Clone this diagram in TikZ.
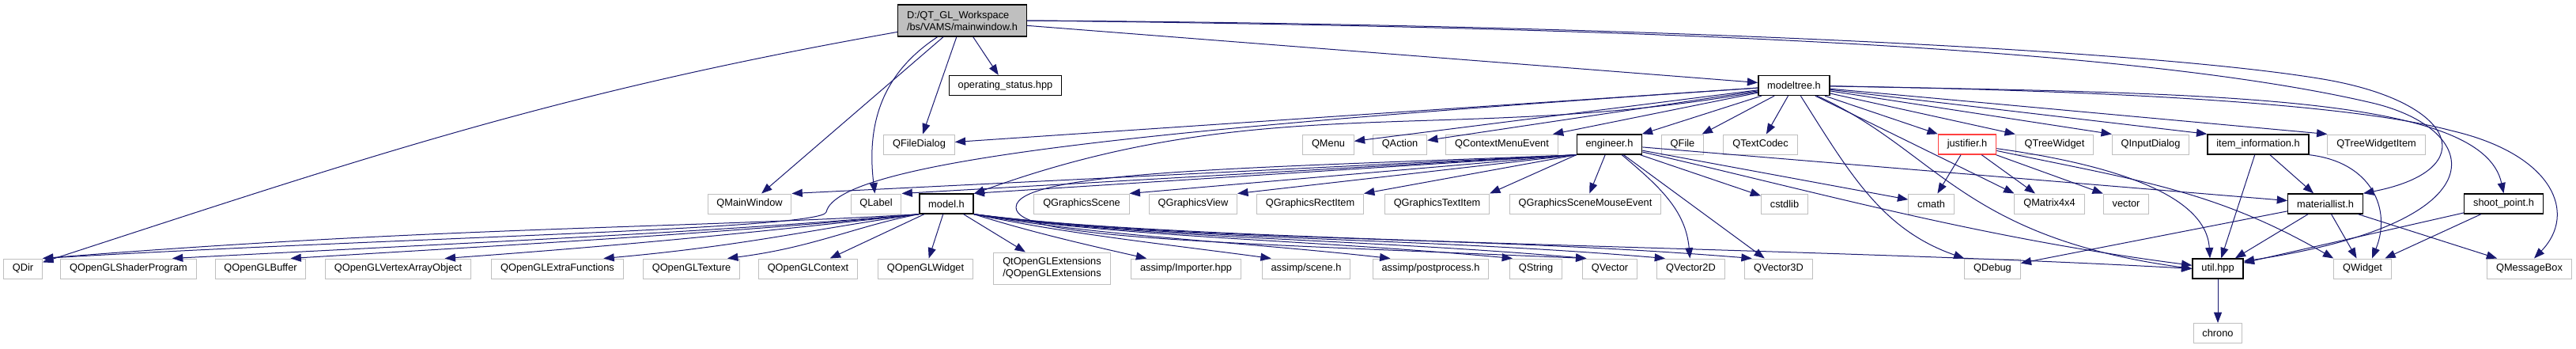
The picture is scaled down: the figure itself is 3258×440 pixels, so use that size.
\documentclass[tikz,border=0pt]{standalone}
\usepackage{fontspec}
\setmainfont{Liberation Sans}
\usetikzlibrary{arrows.meta}

\definecolor{edgeblue}{HTML}{191970}
\definecolor{extgrey}{HTML}{BFBFBF}
\definecolor{flagred}{HTML}{FF4040}

\tikzset{
  filebox/.style={rectangle, fill=white, inner xsep=8.5pt, inner ysep=2pt,
    minimum height=18.75pt, font=\fontsize{9.6}{11.25}\selectfont},
  ext/.style={filebox, draw=extgrey, line width=0.75pt},
  doc/.style={filebox, draw=black, line width=1pt},
  root/.style={doc, fill=extgrey},
  flagged/.style={filebox, draw=flagred, line width=1pt},
  dep/.style={draw=edgeblue, line width=0.75pt, -{Triangle[length=10pt,width=7.5pt]}},
}

\begin{document}
\begin{tikzpicture}[x=0.75pt, y=0.75pt]
\useasboundingbox (0,0) rectangle (3258,-440);
% top file
\node[root, align=left, minimum height=30pt] (mw) at (1217,-26) {D:/QT\_GL\_Workspace\\/bs/VAMS/mainwindow.h};
% second rank
\node[doc] (opstat) at (1271.5,-108) {operating\_status.hpp};
\node[doc] (mt) at (2269,-108) {modeltree.h};
% third rank
\node[ext] (qfiledlg) at (1162.5,-182.5) {QFileDialog};
\node[ext] (qmenu) at (1680,-182.5) {QMenu};
\node[ext] (qaction) at (1770.5,-182.5) {QAction};
\node[ext] (qctxmenu) at (1899.5,-182.5) {QContextMenuEvent};
\node[doc] (eng) at (2035.5,-182.5) {engineer.h};
\node[ext] (qfile) at (2128,-182.5) {QFile};
\node[ext] (qtextcodec) at (2226.5,-182.5) {QTextCodec};
\node[flagged] (just) at (2488,-182.5) {justifier.h};
\node[ext] (qtreew) at (2598.5,-182.5) {QTreeWidget};
\node[ext] (qinputdlg) at (2720,-182.5) {QInputDialog};
\node[doc] (iteminfo) at (2856,-182.5) {item\_information.h};
\node[ext] (qtreewitem) at (3005.5,-182.5) {QTreeWidgetItem};
% fourth rank
\node[ext] (qmainwin) at (948,-257.5) {QMainWindow};
\node[ext] (qlabel) at (1108,-257.5) {QLabel};
\node[doc] (model) at (1197,-257.5) {model.h};
\node[ext] (qgscene) at (1368,-257.5) {QGraphicsScene};
\node[ext] (qgview) at (1509,-257.5) {QGraphicsView};
\node[ext] (qgrect) at (1657,-257.5) {QGraphicsRectItem};
\node[ext] (qgtext) at (1817.5,-257.5) {QGraphicsTextItem};
\node[ext] (qgmouse) at (2005,-257.5) {QGraphicsSceneMouseEvent};
\node[ext] (cstdlib) at (2257,-257.5) {cstdlib};
\node[ext] (cmath) at (2442.5,-257.5) {cmath};
\node[ext] (qmat) at (2592,-257.5) {QMatrix4x4};
\node[ext] (vector) at (2689,-257.5) {vector};
\node[doc] (matl) at (2941,-257.5) {materiallist.h};
\node[doc] (shoot) at (3166.5,-257.5) {shoot\_point.h};
% fifth rank
\node[ext] (qdir) at (29,-339.5) {QDir};
\node[ext] (shader) at (162.5,-339.5) {QOpenGLShaderProgram};
\node[ext] (buffer) at (329.5,-339.5) {QOpenGLBuffer};
\node[ext] (vao) at (503.5,-339.5) {QOpenGLVertexArrayObject};
\node[ext] (extra) at (705,-339.5) {QOpenGLExtraFunctions};
\node[ext] (texture) at (874.5,-339.5) {QOpenGLTexture};
\node[ext] (context) at (1022,-339.5) {QOpenGLContext};
\node[ext] (glwidget) at (1170.5,-339.5) {QOpenGLWidget};
\node[ext, align=left, minimum height=30pt] (glext) at (1330.5,-339) {QtOpenGLExtensions\\/QOpenGLExtensions};
\node[ext] (importer) at (1500,-339.5) {assimp/Importer.hpp};
\node[ext] (scene) at (1652,-339.5) {assimp/scene.h};
\node[ext] (postproc) at (1809.5,-339.5) {assimp/postprocess.h};
\node[ext] (qstring) at (1942.5,-339.5) {QString};
\node[ext] (qvector) at (2036,-339.5) {QVector};
\node[ext] (qvtwo) at (2138.5,-339.5) {QVector2D};
\node[ext] (qvthree) at (2249.5,-339.5) {QVector3D};
\node[ext] (qdebug) at (2520,-339.5) {QDebug};
\node[doc] (util) at (2805,-339.5) {util.hpp};
\node[ext] (qwidget) at (2988,-339.5) {QWidget};
\node[ext] (qmsgbox) at (3199,-339.5) {QMessageBox};
% last rank
\node[ext] (chrono) at (2805,-421) {chrono};

% mainwindow.h
\draw[dep] (mw) to[out=190,in=18] (qdir);
\draw[dep] (mw) -- (qmainwin);
\draw[dep] (mw) .. controls (1120,-90) and (1095,-150) .. (qlabel);
\foreach \t in {qfiledlg,opstat,mt}
  \draw[dep] (mw) -- (\t);
\draw[dep] (mw.east) .. controls (2000,-30) and (2700,-60) .. (2938,-100)
  .. controls (3110,-129) and (3140,-215) .. (matl.north east);
\draw[dep] (mw.east) .. controls (2100,-35) and (2700,-60) .. (3000,-130)
  .. controls (3140,-163) and (3170,-280) .. ([yshift=7pt]util.east);

% modeltree.h
\foreach \t in {qfiledlg,qmenu,qaction,qctxmenu,eng,qfile,qtextcodec}
  \draw[dep] (mt) -- (\t);
\foreach \t in {just,qtreew,qinputdlg,iteminfo,qtreewitem,qmat}
  \draw[dep] (mt) -- (\t.north west);
\draw[dep] (mt) to[out=190,in=20] (model);
\draw[dep] (mt) .. controls (1500,-160) and (1060,-200) .. (1045,-268)
  .. controls (1040,-290) and (500,-300) .. (qdir.north east);
\draw[dep] (mt) .. controls (2340,-220) and (2380,-290) .. (qdebug.north west);
\draw[dep] (mt) .. controls (2450,-190) and (2480,-300) .. (util.west);
\draw[dep] (mt) .. controls (2800,-118) and (3140,-120) .. (shoot.north);
\draw[dep] (mt) .. controls (2700,-115) and (2980,-133) .. (3100,-165)
  .. controls (3230,-195) and (3260,-270) .. ([xshift=4.5pt]qmsgbox.north);

% engineer.h
\foreach \t in {qmainwin,qlabel,model,qgscene,qgview,qgrect,qgtext}
  \draw[dep] (eng.south west) -- (\t.north east);
\foreach \t in {qgmouse,cstdlib,cmath,matl,qvthree}
  \draw[dep] (eng) -- (\t);
\draw[dep] (eng) to[out=-40,in=95] (qvtwo);
\draw[dep] (eng) .. controls (2300,-243) and (2500,-300) .. (util);
\draw[dep] (eng.south west) .. controls (1600,-212) and (1285,-215) .. (1285,-262)
  .. controls (1285,-300) and (1500,-305) .. ([xshift=4pt]qvector.north west);

% model.h, left side
\draw[dep] (model.south west) .. controls +(-300,-18) and +(500,40) .. (qdir.north east);
\draw[dep] (model.south west) .. controls +(-250,-22) and +(420,22) .. ([xshift=-23pt]shader.north east);
\draw[dep] (model.south west) .. controls +(-220,-22) and +(330,20) .. ([xshift=-15pt]buffer.north east);
\draw[dep] (model.south west) .. controls +(-180,-20) and +(250,18) .. ([xshift=-25pt]vao.north east);
\draw[dep] (model.south west) .. controls +(-130,-18) and +(180,16) .. ([xshift=-19pt]extra.north east);
\draw[dep] (model.south west) .. controls +(-80,-15) and +(110,14) .. ([xshift=-12pt]texture.north east);
\foreach \t in {context,glwidget,glext}
  \draw[dep] (model) -- (\t);
% model.h, right side
\draw[dep] (model.south east) .. controls +(70,-22) and +(-80,18) .. ([xshift=15pt]importer.north west);
\draw[dep] (model.south east) .. controls +(120,-25) and +(-150,20) .. ([xshift=9pt]scene.north west);
\draw[dep] (model.south east) .. controls +(160,-28) and +(-200,22) .. ([xshift=17pt]postproc.north west);
\draw[dep] (model.south east) .. controls +(200,-30) and +(-260,24) .. ([xshift=3pt]qstring.north west);
\draw[dep] (model.south east) .. controls +(230,-32) and +(-300,26) .. ([xshift=4pt]qvector.north west);
\draw[dep] (model.south east) .. controls +(260,-34) and +(-330,28) .. ([xshift=8pt]qvtwo.north west);
\draw[dep] (model.south east) .. controls +(290,-36) and +(-370,30) .. ([xshift=7pt]qvthree.north west);
\draw[dep] (model.south east) .. controls +(250,-35) and +(-500,28) .. (util.west);

% justifier.h
\foreach \t in {cmath,qmat}
  \draw[dep] (just) -- (\t);
\draw[dep] (just) -- (vector.north west);
\draw[dep] (just) .. controls (2650,-205) and (2790,-240) .. ([xshift=-7.5pt]util.north);
\draw[dep] (just) to[out=-12,in=150] (qwidget.north west);

% item_information.h
\foreach \t in {util,matl}
  \draw[dep] (iteminfo) -- (\t);
\draw[dep] (iteminfo.south east) .. controls (3000,-205) and (3025,-265) .. ([xshift=9pt]qwidget.north);

% materiallist.h, shoot_point.h, util.hpp
\foreach \t in {qdebug,util,qwidget,qmsgbox}
  \draw[dep] (matl) -- (\t);
\foreach \t in {util,qwidget}
  \draw[dep] (shoot) -- (\t);
\draw[dep] (util) -- (chrono);
\end{tikzpicture}
\end{document}
